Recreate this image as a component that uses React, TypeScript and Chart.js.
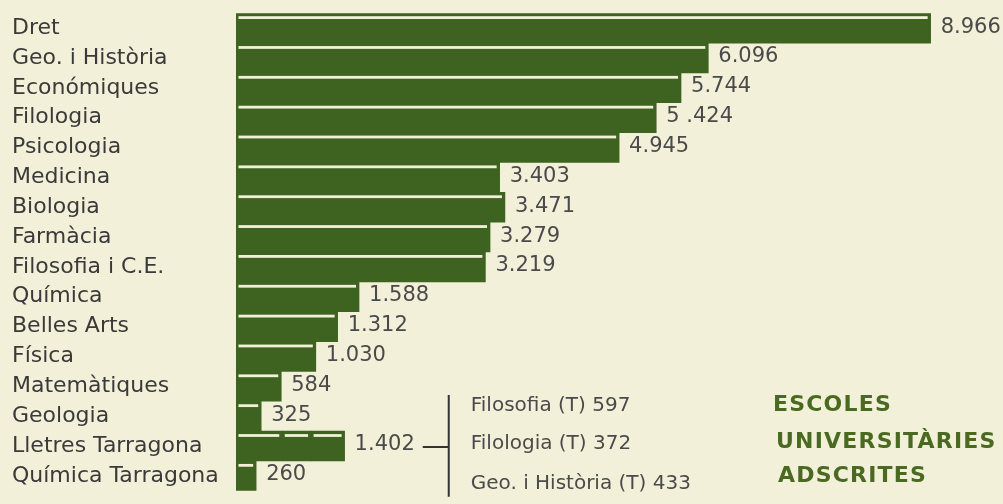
import React, { useEffect, useRef } from "react";
import { Chart, registerables } from "chart.js";

Chart.register(...registerables);

const categories = [
  "Dret",
  "Geo. i Història",
  "Económiques",
  "Filologia",
  "Psicologia",
  "Medicina",
  "Biologia",
  "Farmàcia",
  "Filosofia i C.E.",
  "Química",
  "Belles Arts",
  "Física",
  "Matemàtiques",
  "Geologia",
  "Lletres Tarragona",
  "Química Tarragona",
];

const values = [8966, 6096, 5744, 5424, 4945, 3403, 3471, 3279, 3219, 1588, 1312, 1030, 584, 325, 1402, 260];

const valueLabels = [
  "8.966", "6.096", "5.744", "5 .424", "4.945", "3.403", "3.471", "3.279",
  "3.219", "1.588", "1.312", "1.030", "584", "325", "1.402", "260",
];

const tarragonaIndex = 14;
const tarragonaParts = [597, 372, 433];
const tarragonaPartLabels = ["Filosofia (T) 597", "Filologia (T) 372", "Geo. i Història (T) 433"];

const titleLines = ["ESCOLES", "UNIVERSITÀRIES", "ADSCRITES"];

const BG = "#f3f0d9";
const GREEN = "#3e6220";
const TITLE_GREEN = "#4a6a22";
const TEXT = "#3a3a3a";
const VALUE_TEXT = "#4a4a4a";
const FONT = "'DejaVu Sans', 'Liberation Sans', sans-serif";

const overlayPlugin = {
  id: "overlay",
  afterDatasetsDraw(chart: any) {
    const ctx = chart.ctx;
    const xs = chart.scales.x;
    const ys = chart.scales.y;
    const area = chart.chartArea;
    ctx.save();

    // light printing line near the top of each bar
    chart.data.datasets.forEach((_: any, di: number) => {
      const meta = chart.getDatasetMeta(di);
      meta.data.forEach((el: any, i: number) => {
        const v = chart.data.datasets[di].data[i];
        if (v === null || v === undefined) return;
        const p = el.getProps(["x", "y", "base", "height"], true);
        const left = Math.min(p.x, p.base);
        const right = Math.max(p.x, p.base);
        const top = p.y - p.height / 2;
        ctx.fillStyle = BG;
        ctx.fillRect(left + 2.5, top + 3, right - left - 5.5, 2.8);
      });
    });

    // value labels
    ctx.font = `21px ${FONT}`;
    ctx.fillStyle = VALUE_TEXT;
    ctx.textBaseline = "middle";
    ctx.textAlign = "left";
    values.forEach((v, i) => {
      const end = xs.getPixelForValue(v);
      const yc = ys.getPixelForValue(i);
      ctx.fillText(valueLabels[i], end + 10, yc - 1);
    });

    // bracket for Lletres Tarragona
    const yL = ys.getPixelForValue(tarragonaIndex);
    const endL = xs.getPixelForValue(values[tarragonaIndex]);
    const wL = ctx.measureText(valueLabels[tarragonaIndex]).width;
    const x0 = endL + 10 + wL + 8;
    const x1 = x0 + 26;
    ctx.strokeStyle = "#333333";
    ctx.lineWidth = 2;
    ctx.beginPath();
    ctx.moveTo(x0, yL + 1);
    ctx.lineTo(x1, yL + 1);
    ctx.moveTo(x1, yL - 51);
    ctx.lineTo(x1, area.bottom + 6);
    ctx.stroke();

    const partOffsets = [-40, -2, 38];
    ctx.font = `20px ${FONT}`;
    ctx.fillStyle = VALUE_TEXT;
    tarragonaPartLabels.forEach((t, k) => {
      ctx.fillText(t, x1 + 22, yL + partOffsets[k]);
    });

    // title block
    const titleOffsets = [-41, -4, 30];
    const titleX = [773, 776, 778];
    ctx.font = `bold 22px ${FONT}`;
    ctx.fillStyle = TITLE_GREEN;
    try {
      (ctx as any).letterSpacing = "1.2px";
    } catch (e) {}
    titleLines.forEach((t, k) => {
      ctx.fillText(t, titleX[k], yL + titleOffsets[k]);
    });
    try {
      (ctx as any).letterSpacing = "0px";
    } catch (e) {}
    ctx.restore();
  },
};

export default function App() {
  const ref = useRef<HTMLCanvasElement | null>(null);

  useEffect(() => {
    document.body.style.margin = "0";
    document.body.style.background = BG;
    const canvas = ref.current;
    if (!canvas) return;

    const baseData = values.map((v, i) => (i === tarragonaIndex ? tarragonaParts[0] : v));
    const seg2 = values.map((_, i) => (i === tarragonaIndex ? tarragonaParts[1] : null));
    const seg3 = values.map((_, i) => (i === tarragonaIndex ? tarragonaParts[2] : null));

    const common = {
      backgroundColor: GREEN,
      borderWidth: 0,
      barPercentage: 1,
      categoryPercentage: 1,
    };

    const chart = new Chart(canvas, {
      type: "bar",
      data: {
        labels: categories,
        datasets: [
          { label: "total", data: baseData, ...common },
          { label: "Filologia (T)", data: seg2, ...common },
          { label: "Geo. i Història (T)", data: seg3, ...common },
        ],
      },
      options: {
        indexAxis: "y",
        responsive: false,
        animation: false,
        layout: { padding: { left: 12, top: 10, right: 0, bottom: 3 } },
        plugins: {
          legend: { display: false },
          tooltip: { enabled: false },
        },
        scales: {
          x: {
            stacked: true,
            min: 0,
            max: 9900,
            display: false,
          },
          y: {
            stacked: true,
            grid: { display: false },
            border: { display: false },
            ticks: {
              autoSkip: false,
              crossAlign: "far",
              padding: 0,
              color: TEXT,
              font: { family: FONT, size: 22 },
            },
            afterFit: (scale: any) => {
              scale.width = 224;
            },
          },
        },
      },
      plugins: [overlayPlugin],
    } as any);

    return () => chart.destroy();
  }, []);

  return (
    <div style={{ position: "absolute", left: 0, top: 0, width: 1003, height: 504, background: BG }}>
      <canvas ref={ref} width={1003} height={504} />
    </div>
  );
}
